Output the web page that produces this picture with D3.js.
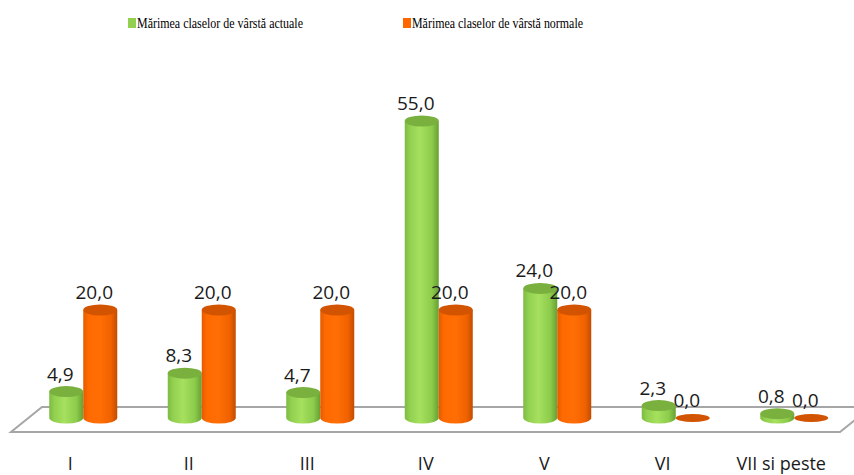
<!DOCTYPE html>
<html>
<head>
<meta charset="utf-8">
<script src="https://cdn.jsdelivr.net/npm/d3@7/dist/d3.min.js"></script>
<style>
  html, body { margin: 0; padding: 0; background: #fff; }
  svg { display: block; }
</style>
</head>
<body>
<svg id="chart" width="854" height="475"></svg>
<script>
// Age-class sizes: current vs. normal (percent)
const categories = ["I", "II", "III", "IV", "V", "VI", "VII si peste"];
const actualValues = [4.9, 8.3, 4.7, 55.0, 24.0, 2.3, 0.8];
const normalValues = [20.0, 20.0, 20.0, 20.0, 20.0, 0.0, 0.0];
const seriesNames = ["Mărimea claselor de vârstă actuale", "Mărimea claselor de vârstă normale"];

const svg = d3.select("#chart");

// Floor plane geometry
const floorBackY = 407, floorFrontY = 432, depthDx = 31;
const baseY = 418;          // bottom ellipse centre of each cylinder

const x = d3.scaleBand().domain(categories).range([24, 853.5]);
const y = d3.scaleLinear().domain([0, 55]).range([baseY, 121]);

const rx = 17, ry = 5.5;

// Gradients for the cylinder bodies
const defs = svg.append("defs");
function cylGradient(id, stops) {
  const g = defs.append("linearGradient").attr("id", id)
    .attr("x1", "0%").attr("x2", "100%").attr("y1", "0%").attr("y2", "0%");
  stops.forEach(s => g.append("stop").attr("offset", s[0]).attr("stop-color", s[1]));
}
cylGradient("gGreen", [["0%", "#7dba42"], ["15%", "#92d050"], ["45%", "#a6e05e"], ["80%", "#8ccb4b"], ["100%", "#66a032"]]);
cylGradient("gOrange", [["0%", "#e45a00"], ["15%", "#ff6a00"], ["50%", "#ff6e05"], ["82%", "#f06200"], ["100%", "#c24c00"]]);

const series = [
  { name: seriesNames[0], values: actualValues, body: "url(#gGreen)", top: "#79b03e", key: "#92d050", off: -rx },
  { name: seriesNames[1], values: normalValues, body: "url(#gOrange)", top: "#d35400", key: "#ff6600", off: rx }
];

// Floor
const fl = 11, fr = 840;
svg.append("path")
  .attr("d", `M${fl},${floorFrontY} L${fr},${floorFrontY} L${fr + depthDx},${floorBackY} L${fl + depthDx},${floorBackY} Z`)
  .attr("fill", "#fff").attr("stroke", "#a6a6a6").attr("stroke-width", 2);

// Cylinders
categories.forEach((c, i) => {
  const cx0 = x(c) + x.bandwidth() / 2;
  series.forEach(s => {
    const cx = cx0 + s.off;
    const yt = y(s.values[i]);
    const g = svg.append("g");
    if (s.values[i] > 0) {
      g.append("path")
        .attr("d", `M${cx - rx},${yt} L${cx - rx},${baseY} A${rx},${ry} 0 0 0 ${cx + rx},${baseY} L${cx + rx},${yt} Z`)
        .attr("fill", s.body);
    }
    g.append("ellipse").attr("cx", cx).attr("cy", yt).attr("rx", rx).attr("ry", s.values[i] > 0 ? ry : 4)
      .attr("fill", s.top);
  });
});

// Value labels
categories.forEach((c, i) => {
  const cx0 = x(c) + x.bandwidth() / 2;
  series.forEach(s => {
    svg.append("text")
      .attr("x", cx0 + s.off - 6)
      .attr("y", y(s.values[i]) - 11)
      .attr("text-anchor", "middle")
      .attr("font-family", "'Open Sans', sans-serif")
      .attr("font-size", 19)
      .attr("fill", "#1a1a1a")
      .text(d3.format(".1f")(s.values[i]).replace(".", ","));
  });
});

// Category labels
categories.forEach(c => {
  svg.append("text")
    .attr("x", x(c) + x.bandwidth() / 2 - 13)
    .attr("y", 470)
    .attr("text-anchor", "middle")
    .attr("font-family", "'Open Sans', sans-serif")
    .attr("font-size", 18)
    .attr("fill", "#1a1a1a")
    .text(c);
});

// Legend
const legendX = [128, 403];
const legendW = [166, 171];
series.forEach((s, i) => {
  svg.append("rect").attr("x", legendX[i]).attr("y", 18).attr("width", 8).attr("height", 10).attr("fill", s.key);
  svg.append("text")
    .attr("x", legendX[i] + 9).attr("y", 28)
    .attr("font-family", "'Liberation Serif', 'Times New Roman', serif")
    .attr("font-size", 14)
    .attr("textLength", legendW[i]).attr("lengthAdjust", "spacingAndGlyphs")
    .attr("fill", "#000")
    .text(s.name);
});
</script>
</body>
</html>
